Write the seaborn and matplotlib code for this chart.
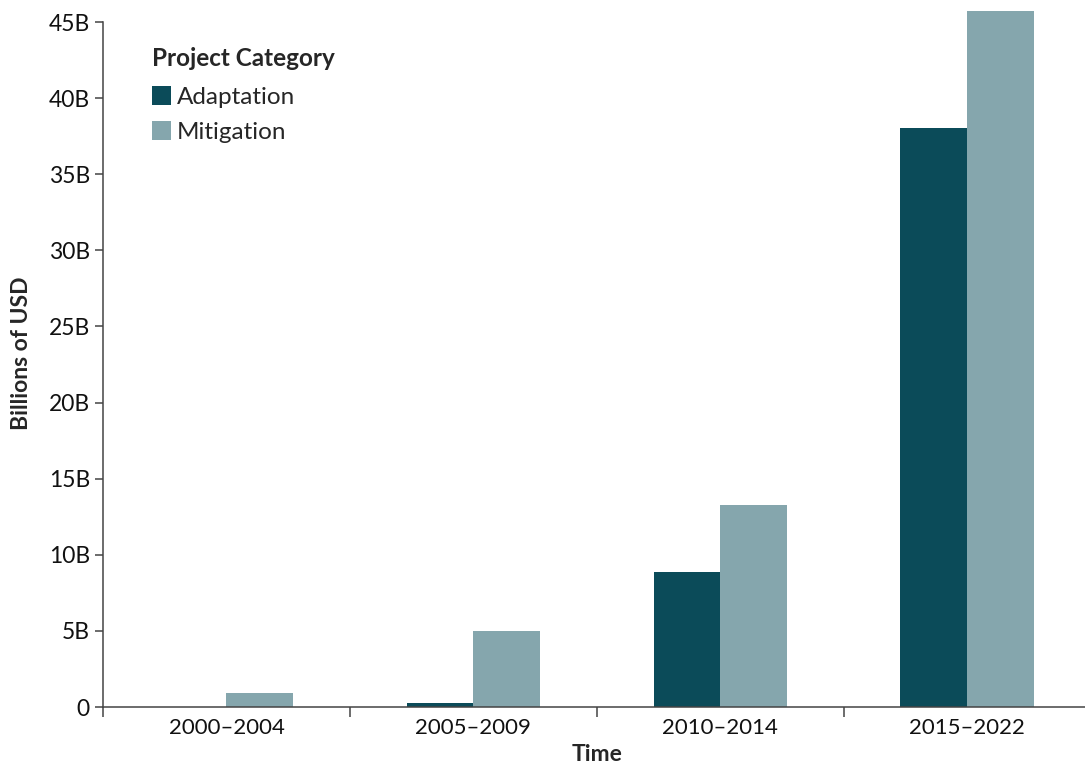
import pandas as pd
import matplotlib.pyplot as plt
import seaborn as sns
from matplotlib.ticker import FixedLocator, FuncFormatter

# données (milliards USD)
periods = ["2000–2004", "2005–2009", "2010–2014", "2015–2022"]
adaptation = [0.0, 0.26, 8.87, 38.05]
mitigation = [0.92, 5.0, 13.27, 45.7]
categories = ["Adaptation", "Mitigation"]
colors = ["#0B4B59", "#85A6AD"]

df = pd.DataFrame({
    "Time": periods * 2,
    "Value": adaptation + mitigation,
    "Project Category": [categories[0]] * 4 + [categories[1]] * 4,
})

sns.set_style("ticks")
plt.rcParams["font.family"] = ["Lato", "DejaVu Sans"]

fig = plt.figure(figsize=(10.85, 7.68), dpi=100)
ax = fig.add_axes([0.095, 0.0794, 0.91, 0.9206])

sns.barplot(data=df, x="Time", y="Value", hue="Project Category",
            palette=colors, width=0.54, saturation=1, linewidth=0, ax=ax)

ax.set_xlim(-0.5, 3.5)
ax.set_ylim(0, 46.45)
ax.set_yticks(range(0, 46, 5))
ax.yaxis.set_major_formatter(FuncFormatter(lambda v, p: "0" if v == 0 else f"{int(v)}B"))
ax.spines["left"].set_bounds(0, 45)
sns.despine(ax=ax)
for s in ["left", "bottom"]:
    ax.spines[s].set_color("#444444")
    ax.spines[s].set_linewidth(1.1)

# ticks aux limites des groupes, libellés au centre
ax.xaxis.set_major_locator(FixedLocator([-0.5, 0.5, 1.5, 2.5]))
ax.xaxis.set_major_formatter(FuncFormatter(lambda v, p: ""))
ax.xaxis.set_minor_locator(FixedLocator(range(4)))
ax.set_xticklabels(periods, minor=True)
ax.tick_params(axis="x", which="minor", length=0, labelsize=16, pad=8, colors="#111111")
ax.tick_params(axis="x", which="major", length=7, width=1.1, color="#444444")
ax.tick_params(axis="y", length=6, width=1.1, color="#444444", labelsize=16.5, labelcolor="#111111")

ax.set_xlabel("Time", fontsize=16.5, fontweight="bold", labelpad=4)
ax.set_ylabel("Billions of USD", fontsize=16.5, fontweight="bold", labelpad=12)

leg = ax.legend(title="Project Category", loc="upper left", bbox_to_anchor=(0.027, 0.965),
                frameon=False, fontsize=17.5, title_fontsize=17.5,
                handlelength=0.8, handleheight=0.8, handletextpad=0.25, labelspacing=0.55)
leg.get_title().set_fontweight("bold")
leg._legend_box.align = "left"
leg._legend_box.sep = 12

fig.savefig("out.png", dpi=100)
